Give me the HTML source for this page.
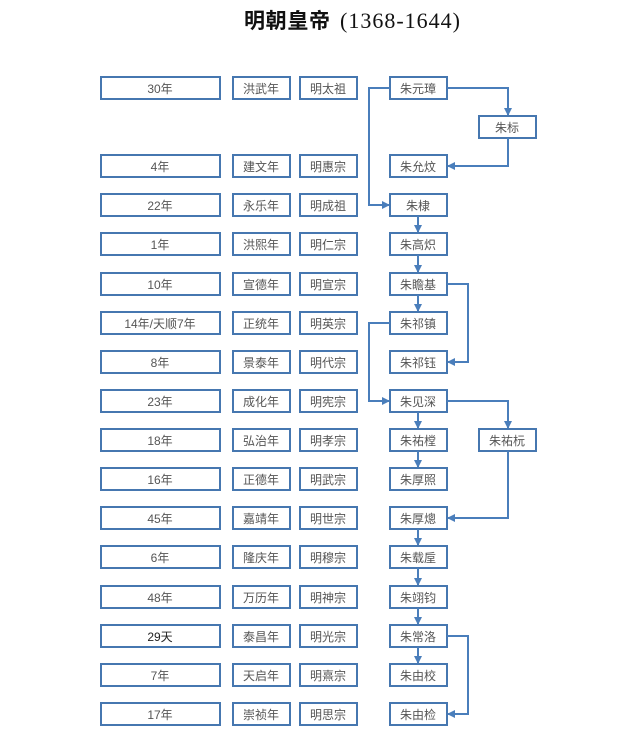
<!DOCTYPE html>
<html><head><meta charset="utf-8"><style>
html,body{margin:0;padding:0;background:#fff;width:640px;height:743px;overflow:hidden}
svg text{font-family:"Liberation Sans","Noto Sans CJK SC",sans-serif;font-size:12px;fill:#555}
</style></head><body>
<svg width="640" height="743" xmlns="http://www.w3.org/2000/svg">
<defs><marker id="a" markerWidth="8" markerHeight="8" refX="7" refY="4" orient="auto" markerUnits="userSpaceOnUse"><path d="M0,0 L8,4 L0,8 z" fill="#4a7ebb"/></marker></defs>
<text x="244" y="28" textLength="86" style="font-size:21px;font-weight:bold;fill:#111;font-family:'Noto Sans CJK SC',sans-serif">明朝皇帝</text>
<text x="340" y="28" textLength="120" style="font-size:22px;fill:#111;font-family:'Liberation Serif',serif">(1368-1644)</text>
<g fill="none" stroke="#4677b0" stroke-width="2">
<rect x="101" y="77" width="119" height="22"/><rect x="233" y="77" width="57" height="22"/><rect x="300" y="77" width="57" height="22"/><rect x="390" y="77" width="57" height="22"/>
<rect x="479" y="116" width="57" height="22"/>
<rect x="479" y="429" width="57" height="22"/>
<rect x="101" y="155" width="119" height="22"/><rect x="233" y="155" width="57" height="22"/><rect x="300" y="155" width="57" height="22"/><rect x="390" y="155" width="57" height="22"/>
<rect x="101" y="194" width="119" height="22"/><rect x="233" y="194" width="57" height="22"/><rect x="300" y="194" width="57" height="22"/><rect x="390" y="194" width="57" height="22"/>
<rect x="101" y="233" width="119" height="22"/><rect x="233" y="233" width="57" height="22"/><rect x="300" y="233" width="57" height="22"/><rect x="390" y="233" width="57" height="22"/>
<rect x="101" y="273" width="119" height="22"/><rect x="233" y="273" width="57" height="22"/><rect x="300" y="273" width="57" height="22"/><rect x="390" y="273" width="57" height="22"/>
<rect x="101" y="312" width="119" height="22"/><rect x="233" y="312" width="57" height="22"/><rect x="300" y="312" width="57" height="22"/><rect x="390" y="312" width="57" height="22"/>
<rect x="101" y="351" width="119" height="22"/><rect x="233" y="351" width="57" height="22"/><rect x="300" y="351" width="57" height="22"/><rect x="390" y="351" width="57" height="22"/>
<rect x="101" y="390" width="119" height="22"/><rect x="233" y="390" width="57" height="22"/><rect x="300" y="390" width="57" height="22"/><rect x="390" y="390" width="57" height="22"/>
<rect x="101" y="429" width="119" height="22"/><rect x="233" y="429" width="57" height="22"/><rect x="300" y="429" width="57" height="22"/><rect x="390" y="429" width="57" height="22"/>
<rect x="101" y="468" width="119" height="22"/><rect x="233" y="468" width="57" height="22"/><rect x="300" y="468" width="57" height="22"/><rect x="390" y="468" width="57" height="22"/>
<rect x="101" y="507" width="119" height="22"/><rect x="233" y="507" width="57" height="22"/><rect x="300" y="507" width="57" height="22"/><rect x="390" y="507" width="57" height="22"/>
<rect x="101" y="546" width="119" height="22"/><rect x="233" y="546" width="57" height="22"/><rect x="300" y="546" width="57" height="22"/><rect x="390" y="546" width="57" height="22"/>
<rect x="101" y="586" width="119" height="22"/><rect x="233" y="586" width="57" height="22"/><rect x="300" y="586" width="57" height="22"/><rect x="390" y="586" width="57" height="22"/>
<rect x="101" y="625" width="119" height="22"/><rect x="233" y="625" width="57" height="22"/><rect x="300" y="625" width="57" height="22"/><rect x="390" y="625" width="57" height="22"/>
<rect x="101" y="664" width="119" height="22"/><rect x="233" y="664" width="57" height="22"/><rect x="300" y="664" width="57" height="22"/><rect x="390" y="664" width="57" height="22"/>
<rect x="101" y="703" width="119" height="22"/><rect x="233" y="703" width="57" height="22"/><rect x="300" y="703" width="57" height="22"/><rect x="390" y="703" width="57" height="22"/>
</g>
<g fill="none" stroke="#4a7ebb" stroke-width="2" marker-end="url(#a)">
<path d="M390,88 H369 V205 H389"/>
<path d="M447,88 H508 V115"/>
<path d="M508,138 V166 H448"/>
<path d="M418,216 V232"/><path d="M418,255 V272"/><path d="M418,295 V311"/>
<path d="M447,284 H468 V362 H448"/>
<path d="M390,323 H369 V401 H389"/>
<path d="M418,412 V428"/><path d="M447,401 H508 V428"/>
<path d="M418,451 V467"/>
<path d="M508,451 V518 H448"/>
<path d="M418,529 V545"/><path d="M418,568 V585"/><path d="M418,608 V624"/>
<path d="M418,647 V663"/><path d="M447,636 H468 V714 H448"/>
</g>
<g text-anchor="middle">
<text x="507" y="132">朱标</text><text x="507" y="445">朱祐杬</text>
<text x="160" y="93">30年</text><text x="261" y="93">洪武年</text><text x="328" y="93">明太祖</text><text x="418" y="93">朱元璋</text>
<text x="160" y="171">4年</text><text x="261" y="171">建文年</text><text x="328" y="171">明惠宗</text><text x="418" y="171">朱允炆</text>
<text x="160" y="210">22年</text><text x="261" y="210">永乐年</text><text x="328" y="210">明成祖</text><text x="418" y="210">朱棣</text>
<text x="160" y="249">1年</text><text x="261" y="249">洪熙年</text><text x="328" y="249">明仁宗</text><text x="418" y="249">朱高炽</text>
<text x="160" y="289">10年</text><text x="261" y="289">宣德年</text><text x="328" y="289">明宣宗</text><text x="418" y="289">朱瞻基</text>
<text x="160" y="328">14年/天顺7年</text><text x="261" y="328">正统年</text><text x="328" y="328">明英宗</text><text x="418" y="328">朱祁镇</text>
<text x="160" y="367">8年</text><text x="261" y="367">景泰年</text><text x="328" y="367">明代宗</text><text x="418" y="367">朱祁钰</text>
<text x="160" y="406">23年</text><text x="261" y="406">成化年</text><text x="328" y="406">明宪宗</text><text x="418" y="406">朱见深</text>
<text x="160" y="445">18年</text><text x="261" y="445">弘治年</text><text x="328" y="445">明孝宗</text><text x="418" y="445">朱祐樘</text>
<text x="160" y="484">16年</text><text x="261" y="484">正德年</text><text x="328" y="484">明武宗</text><text x="418" y="484">朱厚照</text>
<text x="160" y="523">45年</text><text x="261" y="523">嘉靖年</text><text x="328" y="523">明世宗</text><text x="418" y="523">朱厚熜</text>
<text x="160" y="562">6年</text><text x="261" y="562">隆庆年</text><text x="328" y="562">明穆宗</text><text x="418" y="562">朱载垕</text>
<text x="160" y="602">48年</text><text x="261" y="602">万历年</text><text x="328" y="602">明神宗</text><text x="418" y="602">朱翊钧</text>
<text x="160" y="641" style="fill:#222">29天</text><text x="261" y="641">泰昌年</text><text x="328" y="641">明光宗</text><text x="418" y="641">朱常洛</text>
<text x="160" y="680">7年</text><text x="261" y="680">天启年</text><text x="328" y="680">明熹宗</text><text x="418" y="680">朱由校</text>
<text x="160" y="719">17年</text><text x="261" y="719">崇祯年</text><text x="328" y="719">明思宗</text><text x="418" y="719">朱由检</text>
</g>
</svg>
</body></html>
